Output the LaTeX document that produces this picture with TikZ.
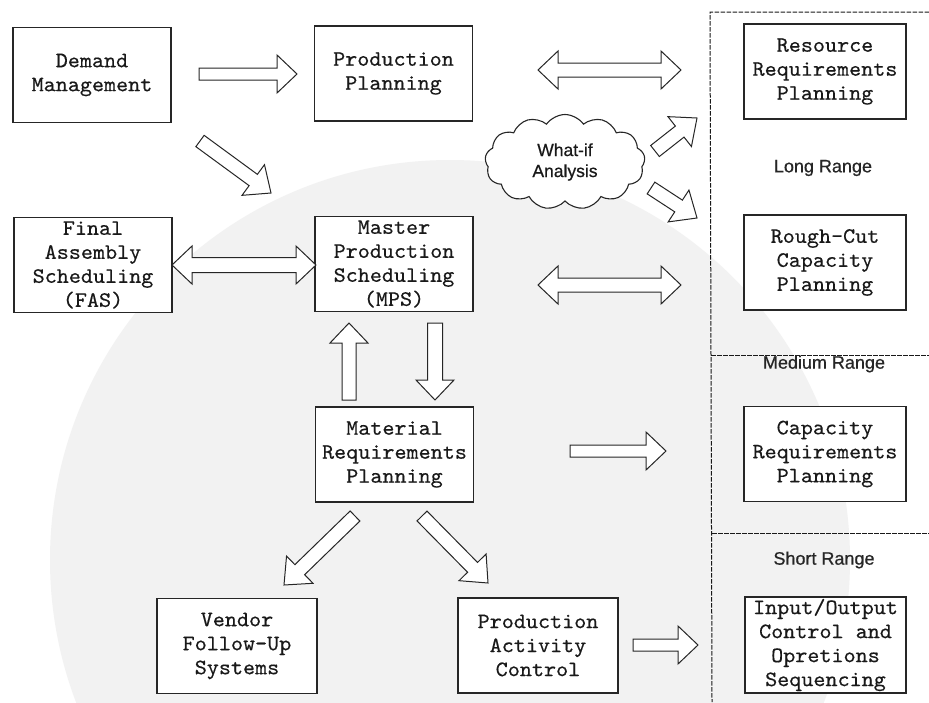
\documentclass[tikz,border=0pt]{standalone}
\usepackage{fontspec}
\setmainfont{Liberation Serif}
\newfontfamily\labelfont{Liberation Sans}[FakeBold=0.6]
\newfontfamily\boxfont{lmmono10-regular.otf}[FakeBold=0.4, FakeStretch=1.045]
\usetikzlibrary{calc,shapes.symbols}

% Block arrow from #1 to #2: shaft half-width #3, head half-width #4, head length #5
\newcommand{\blockarrow}[5]{%
  \coordinate (ba-h) at ($(#2)!#5!(#1)$);
  \draw[blockstyle] ($(#1)!#3!90:(#2)$) -- ($(ba-h)!#3!90:(#2)$) -- ($(ba-h)!#4!90:(#2)$)
    -- (#2) -- ($(ba-h)!#4!-90:(#2)$) -- ($(ba-h)!#3!-90:(#2)$) -- ($(#1)!#3!-90:(#2)$) -- cycle;
}
% Double-headed block arrow between #1 and #2
\newcommand{\dblockarrow}[5]{%
  \coordinate (ba-h) at ($(#2)!#5!(#1)$);
  \coordinate (ba-t) at ($(#1)!#5!(#2)$);
  \draw[blockstyle] (#1) -- ($(ba-t)!#4!90:(#2)$) -- ($(ba-t)!#3!90:(#2)$)
    -- ($(ba-h)!#3!90:(#2)$) -- ($(ba-h)!#4!90:(#2)$) -- (#2)
    -- ($(ba-h)!#4!-90:(#2)$) -- ($(ba-h)!#3!-90:(#2)$)
    -- ($(ba-t)!#3!-90:(#2)$) -- ($(ba-t)!#4!-90:(#2)$) -- cycle;
}

\tikzset{
  box/.style={draw=black!85, line width=1.1pt, fill=white, minimum width=158pt,
    minimum height=95pt, align=center, inner sep=0pt,
    font=\boxfont\fontsize{22}{24}\selectfont, text=black!90},
  blockstyle/.style={draw=black!85, line width=1pt, fill=white, line join=miter},
  rangelabel/.style={font=\labelfont\fontsize{18}{20}\selectfont, text=black!85, inner sep=0pt},
  frameline/.style={draw=black!90, line width=1pt, dash pattern=on 4.5pt off 1.5pt},
}

\begin{document}
\begin{tikzpicture}[x=1pt,y=-1pt]
\useasboundingbox (0,0) rectangle (929,702);
\fill[white] (0,0) rectangle (929,702);
% faint background seal
\begin{scope}
  \clip (0,0) rectangle (929,702);
  \fill[black!5] (450,560) circle[radius=400pt];
\end{scope}

% range frame
\draw[frameline] (929,12) -- (710,12) -- (712,702);
\draw[frameline] (711,355) -- (929,355);
\draw[frameline] (712,533) -- (929,533);

% planning boxes
\node[box] (dm)   at (92,75)    {Demand\\Management};
\node[box] (pp)   at (393.5,73.5) {Production\\Planning};
\node[box] (fas)  at (93,265)   {Final\\Assembly\\Scheduling\\(FAS)};
\node[box] (mps)  at (394,264)  {Master\\Production\\Scheduling\\(MPS)};
\node[box] (mrp)  at (394.5,454.5) {Material\\Requirements\\Planning};
\node[box, minimum width=160pt] (vfs) at (237,646) {Vendor\\Follow-Up\\Systems};
\node[box, minimum width=160pt] (pac) at (538,645.5) {Production\\Activity\\Control};
\node[box, minimum width=162pt] (rrp)  at (825,71.5) {Resource\\Requirements\\Planning};
\node[box, minimum width=162pt] (rccp) at (825,262.5) {Rough-Cut\\Capacity\\Planning};
\node[box, minimum width=162pt] (crp)  at (825,454) {Capacity\\Requirements\\Planning};
\node[box, minimum width=161pt, minimum height=96pt] (io) at (825.5,645) {Input/Output\\Control and\\Opretions\\Sequencing};

% what-if cloud
\node[cloud, cloud puffs=13, cloud puff arc=110, aspect=1.8, draw=black!85, line width=1.1pt,
  fill=white, minimum width=160pt, minimum height=95pt, inner sep=0pt, align=center,
  font=\labelfont\fontsize{17.5}{21}\selectfont, text=black!90] (wi) at (565,162) {What-if\\Analysis};

% range labels
\node[rangelabel] (lr) at (823,168) {Long Range};
\node[rangelabel] (mr) at (824,364) {Medium Range};
\node[rangelabel] (sr) at (824,560) {Short Range};

% arrow anchor points
\coordinate (a1s) at (199,74);  \coordinate (a1e) at (297,74);
\coordinate (a2s) at (200,141); \coordinate (a2e) at (271,193);
\coordinate (a3s) at (172,265); \coordinate (a3e) at (316,265);
\coordinate (a4s) at (538,70);  \coordinate (a4e) at (681,70);
\coordinate (a5s) at (655,151); \coordinate (a5e) at (697,118);
\coordinate (a6s) at (651,188); \coordinate (a6e) at (697,218);
\coordinate (a7s) at (538,285); \coordinate (a7e) at (681,285);
\coordinate (a8s) at (349,400); \coordinate (a8e) at (349,323);
\coordinate (a9s) at (435,323); \coordinate (a9e) at (435,400);
\coordinate (a10s) at (570,451); \coordinate (a10e) at (666,451);
\coordinate (a11s) at (355,516); \coordinate (a11e) at (284,585);
\coordinate (a12s) at (422,516); \coordinate (a12e) at (488,583);
\coordinate (a13s) at (633,645); \coordinate (a13e) at (698,645);

% block arrows
\blockarrow{a1s}{a1e}{6pt}{19pt}{20pt}
\blockarrow{a2s}{a2e}{7pt}{19pt}{22pt}
\dblockarrow{a3s}{a3e}{7.5pt}{19pt}{20pt}
\dblockarrow{a4s}{a4e}{7pt}{19pt}{20pt}
\blockarrow{a5s}{a5e}{7pt}{19pt}{22pt}
\blockarrow{a6s}{a6e}{7pt}{19pt}{22pt}
\dblockarrow{a7s}{a7e}{7pt}{19pt}{20pt}
\blockarrow{a8s}{a8e}{7pt}{19pt}{20pt}
\blockarrow{a9s}{a9e}{7.5pt}{19pt}{20pt}
\blockarrow{a10s}{a10e}{6pt}{19pt}{20pt}
\blockarrow{a11s}{a11e}{7pt}{19pt}{22pt}
\blockarrow{a12s}{a12e}{7pt}{19pt}{22pt}
\blockarrow{a13s}{a13e}{6pt}{19pt}{20pt}
\end{tikzpicture}
\end{document}
